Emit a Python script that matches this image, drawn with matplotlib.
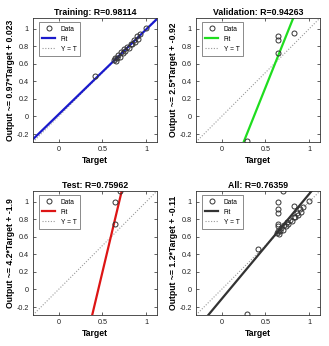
import matplotlib
matplotlib.use("Agg")
import matplotlib.pyplot as plt
import numpy as np

plt.rcParams['font.family'] = ['Liberation Sans', 'DejaVu Sans']

# ---- data ----
train_target = [0.41, 0.63, 0.64, 0.65, 0.66, 0.68, 0.70, 0.71, 0.73, 0.75, 0.76,
                0.78, 0.80, 0.82, 0.84, 0.86, 0.87, 0.89, 0.90, 0.93, 1.00]
train_output = [0.46, 0.64, 0.66, 0.63, 0.67, 0.70, 0.68, 0.73, 0.72, 0.77, 0.74,
                0.79, 0.78, 0.83, 0.82, 0.87, 0.85, 0.92, 0.88, 0.94, 1.01]
val_target = [0.29, 0.64, 0.64, 0.64, 0.83]
val_output = [-0.28, 0.72, 0.87, 0.92, 0.95]
test_target = [0.64, 0.64, 0.70]
test_output = [0.75, 1.00, 1.12]
all_target = train_target + val_target + test_target
all_output = train_output + val_output + test_output

titles = ["Training: R=0.98114", "Validation: R=0.94263", "Test: R=0.75962", "All: R=0.76359"]
ylabels = ["Output ~= 0.97*Target + 0.023", "Output ~= 2.5*Target + -0.92",
           "Output ~= 4.2*Target + -1.9", "Output ~= 1.2*Target + -0.11"]
slopes = [0.97, 2.5, 4.2, 1.2]
intercepts = [0.023, -0.92, -1.9, -0.11]
fit_colors = ["#1a1acc", "#1fdd1f", "#dd1515", "#333333"]
targets = [train_target, val_target, test_target, all_target]
outputs = [train_output, val_output, test_output, all_output]
xticks = [0, 0.5, 1]
xticklabels = ["0", "0.5", "1"]
yticks = [-0.2, 0, 0.2, 0.4, 0.6, 0.8, 1]
yticklabels = ["-0.2", "0", "0.2", "0.4", "0.6", "0.8", "1"]
lims = (-0.29, 1.12)

W, H = 329, 346
fig = plt.figure(figsize=(W / 100, H / 100), dpi=100)
fig.patch.set_facecolor("white")

boxes = [(33, 18), (196, 18), (33, 191), (196, 191)]
aw, ah = 124, 124

for i in range(4):
    x0, y0 = boxes[i]
    ax = fig.add_axes([x0 / W, 1 - (y0 + ah) / H, aw / W, ah / H])
    xs = np.array(lims)
    ax.plot(xs, xs, linestyle=(0, (1, 1.5)), color="#9a9a9a", lw=0.8, label="Y = T", zorder=1)
    ax.plot(xs, slopes[i] * xs + intercepts[i], color=fit_colors[i], lw=1.6, label="Fit", zorder=2)
    ax.plot(targets[i], outputs[i], linestyle="none", marker="o", ms=3.6,
            mfc="none", mec="#333333", mew=0.7, label="Data", zorder=3)
    ax.set_xlim(lims)
    ax.set_ylim(lims)
    ax.set_xticks(xticks)
    ax.set_xticklabels(xticklabels)
    ax.set_yticks(yticks)
    ax.set_yticklabels(yticklabels)
    ax.tick_params(direction="in", length=2, width=0.5, labelsize=5.2, pad=3,
                   top=True, right=True, colors="#222222")
    for s in ax.spines.values():
        s.set_linewidth(0.6)
        s.set_color("#333333")
    ax.set_title(titles[i], fontsize=6.3, fontweight="bold", pad=2)
    ax.set_xlabel("Target", fontsize=6.2, fontweight="bold", labelpad=2)
    ax.set_ylabel(ylabels[i], fontsize=6.2, fontweight="bold", labelpad=1)
    h, l = ax.get_legend_handles_labels()
    leg = ax.legend([h[2], h[1], h[0]], [l[2], l[1], l[0]], loc="upper left",
                    fontsize=4.8, frameon=True, fancybox=False, edgecolor="#333333",
                    borderpad=0.5, handlelength=2.0, labelspacing=0.45,
                    bbox_to_anchor=(0.045, 0.965), borderaxespad=0.0)
    leg.get_frame().set_linewidth(0.5)

fig.savefig("out.png", dpi=100, facecolor="white")
